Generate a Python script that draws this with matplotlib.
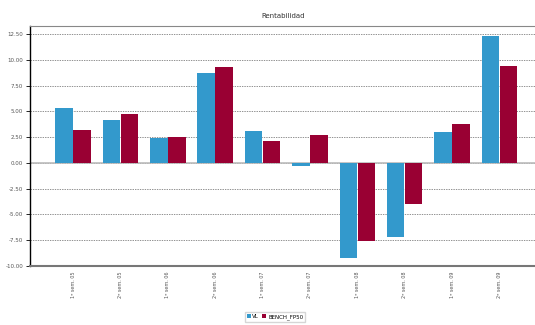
import matplotlib.pyplot as plt
import numpy as np

# periodos y rentabilidades
periodos = ["1º sem. 05", "2º sem. 05", "1º sem. 06", "2º sem. 06", "1º sem. 07",
            "2º sem. 07", "1º sem. 08", "2º sem. 08", "1º sem. 09", "2º sem. 09"]
vl = [5.3, 4.17, 2.44, 8.72, 3.1, -0.3, -9.2, -7.16, 3.03, 12.3]
bench = [3.25, 4.72, 2.54, 9.3, 2.15, 2.73, -7.6, -3.94, 3.78, 9.37]
yticks = [12.5, 10.0, 7.5, 5.0, 2.5, 0.0, -2.5, -5.0, -7.5, -10.0]

fig = plt.figure(figsize=(5.35, 3.25), dpi=100)
ax = fig.add_axes([30 / 535, 1 - 266 / 325, 1 - 30 / 535, 240 / 325])

x = np.arange(len(periodos))
w = 0.37
ax.bar(x - 0.19, vl, w, color="#3399cc", label="VL", zorder=3)
ax.bar(x + 0.19, bench, w, color="#990033", label="BENCH_FP50", zorder=3)

ax.set_xlim(-0.91, 9.75)
ax.set_ylim(-10, 13.3)
ax.set_yticks(yticks)
ax.set_yticklabels(["%.2f" % v for v in yticks], fontsize=4, color="#555555")
ax.set_xticks(x)
ax.set_xticklabels(periodos, rotation=90, fontsize=3.5, color="#555555")
ax.tick_params(axis="y", length=3, width=0.6, pad=2)
ax.tick_params(axis="x", length=0, pad=4)
ax.grid(axis="y", linestyle=(0, (2, 1.5)), color="#666666", linewidth=0.5, zorder=0)
ax.axhline(0, color="#bbbbbb", linewidth=1.2, zorder=2)

ax.spines["right"].set_visible(False)
ax.spines["top"].set_color("#888888")
ax.spines["top"].set_linewidth(0.8)
ax.spines["left"].set_color("black")
ax.spines["left"].set_linewidth(1)
ax.spines["bottom"].set_color("#777777")
ax.spines["bottom"].set_linewidth(1.5)

fig.text(283 / 535, 1 - 16 / 325, "Rentabilidad", fontsize=5, color="#333333", ha="center", va="center")

fig.legend(loc="center", bbox_to_anchor=(275 / 535, 1 - 317 / 325), ncol=2, fontsize=4,
           frameon=True, edgecolor="#cccccc", fancybox=False, handlelength=0.7,
           handleheight=0.7, handletextpad=0.3, columnspacing=0.6, borderpad=0.4)

fig.savefig("out.png", dpi=100)
